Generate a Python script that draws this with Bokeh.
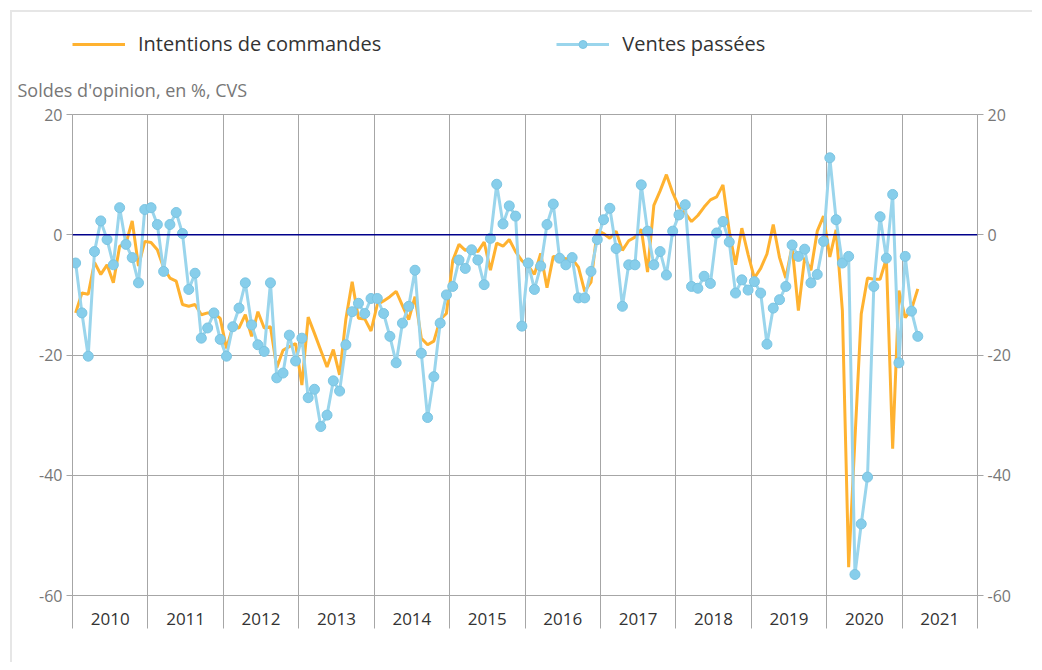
import numpy as np
from bokeh.plotting import figure
from bokeh.layouts import column
from bokeh.models import (Range1d, LinearAxis, FixedTicker, Span, Title, Legend,
                          LegendItem, ColumnDataSource)
from bokeh.embed import file_html
from bokeh.resources import INLINE

# ---------------- data ----------------
years = [str(y) for y in range(2010, 2022)]
y_ticks = [20, 0, -20, -40, -60]

intentions = [
    -13.0, -9.7, -9.9, -4.6, -6.6, -5.0, -8.0, -1.9, -1.5, 2.3, -5.2, -1.1,          # 2010
    -1.3, -2.5, -5.5, -7.2, -7.7, -11.6, -11.9, -11.6, -13.3, -13.0, -13.0, -13.9,   # 2011
    -18.9, -15.3, -15.5, -13.3, -16.9, -12.8, -15.5, -15.3, -22.1, -19.2, -18.6, -18.1,  # 2012
    -25.0, -13.7, -16.4, -19.2, -22.0, -19.1, -23.3, -14.0, -7.8, -13.9, -14.0, -16.0,   # 2013
    -11.6, -11.0, -10.3, -9.4, -11.8, -14.1, -10.3, -17.2, -18.3, -17.7, -14.1, -13.1,   # 2014
    -4.3, -1.6, -2.6, -2.2, -2.8, -1.2, -5.9, -1.4, -1.9, -0.8, -2.8, -4.3,          # 2015
    -5.2, -6.6, -3.1, -8.8, -3.6, -3.8, -4.0, -4.0, -5.4, -9.4, -7.9, 0.8,           # 2016
    0.2, -0.6, 0.6, -2.6, -1.0, -0.4, 0.9, -6.2, 4.9, 7.3, 10.0, 7.0,                # 2017
    4.6, 3.6, 2.2, 3.2, 4.6, 5.8, 6.3, 8.3, 0.6, -5.0, 1.1, -3.3,                    # 2018
    -7.2, -5.6, -3.2, 1.7, -3.8, -7.2, -1.9, -12.6, -3.8, -5.9, 0.6, 3.1,            # 2019
    -3.7, 0.8, -12.6, -55.3, -34.0, -13.2, -7.2, -7.4, -7.4, -4.0, -35.6, -9.3,      # 2020
    -13.8, -12.4, -9.0,                                                              # 2021
]

ventes = [
    -4.7, -13.0, -20.2, -2.8, 2.3, -0.8, -5.0, 4.5, -1.6, -3.8, -8.0, 4.2,           # 2010
    4.5, 1.7, -6.1, 1.7, 3.7, 0.2, -9.1, -6.4, -17.2, -15.5, -13.0, -17.4,           # 2011
    -20.2, -15.3, -12.2, -8.0, -15.0, -18.3, -19.4, -8.0, -23.8, -23.0, -16.7, -21.0,  # 2012
    -17.2, -27.1, -25.7, -31.9, -30.0, -24.3, -26.0, -18.3, -12.8, -11.4, -13.1, -10.6,  # 2013
    -10.6, -13.1, -16.9, -21.3, -14.7, -11.9, -5.9, -19.7, -30.4, -23.6, -14.7, -10.0,   # 2014
    -8.6, -4.2, -5.6, -2.5, -4.2, -8.3, -0.6, 8.4, 1.8, 4.8, 3.1, -15.2,             # 2015
    -4.7, -9.1, -5.2, 1.7, 5.1, -3.9, -5.0, -3.8, -10.5, -10.5, -6.1, -0.8,          # 2016
    2.5, 4.4, -2.3, -11.9, -5.0, -5.0, 8.3, 0.6, -5.0, -2.8, -6.7, 0.6,              # 2017
    3.3, 5.0, -8.6, -8.9, -6.9, -8.1, 0.3, 2.2, -1.2, -9.7, -7.5, -9.2,              # 2018
    -7.8, -9.7, -18.2, -12.2, -10.8, -8.6, -1.7, -3.6, -2.4, -8.0, -6.6, -1.1,       # 2019
    12.8, 2.5, -4.7, -3.6, -56.5, -48.1, -40.3, -8.6, 3.0, -3.9, 6.7, -21.3,         # 2020
    -3.6, -12.7, -16.9,                                                              # 2021
]

# month positions (centre of each month, in months since Jan 2010)
n = len(ventes)
month_x = [i + 0.5 for i in range(n)]
src = ColumnDataSource(dict(x=month_x, intentions=intentions, ventes=ventes))

n_months_axis = 12 * len(years)
year_bounds = [12 * k for k in range(len(years) + 1)]
year_mids = [12 * k + 6 for k in range(len(years))]

FONT = "Open Sans"
GRID = "#a6a6a6"
ORANGE = "#FFB230"
BLUE_LINE = "#9AD5EC"
BLUE_MARK = "#87CEEB"
BLUE_EDGE = "#7cc5e2"

W = 1020
LEG_H = 50

# ---------------- legend strip (same series, ranges chosen so nothing shows) ----------------
lf = figure(width=W, height=LEG_H, title=None, x_range=Range1d(-3, -2), y_range=Range1d(0, 1),
            x_axis_type=None, y_axis_type=None, output_backend="svg",
            toolbar_location=None, min_border=0)
lf.outline_line_color = None
lf.border_fill_color = "white"
k_ol = lf.line("x", "intentions", source=src, line_color=ORANGE, line_width=3)
k_bl = lf.line("x", "ventes", source=src, line_color=BLUE_LINE, line_width=3)
k_bs = lf.scatter("x", "ventes", source=src, size=10, fill_color=BLUE_MARK,
                  line_color=BLUE_EDGE, line_width=1)
legend = Legend(items=[LegendItem(label="Intentions de commandes", renderers=[k_ol]),
                       LegendItem(label="Ventes passées", renderers=[k_bl, k_bs])],
                orientation="horizontal", location=(0, 5),
                glyph_width=53, glyph_height=20, label_standoff=13, spacing=175,
                padding=0, margin=0, border_line_color=None,
                background_fill_alpha=0,
                label_text_font=FONT, label_text_font_size="20px",
                label_text_color="#333333")
lf.add_layout(legend, "center")

# ---------------- main chart ----------------
p = figure(width=W, height=650 - LEG_H, title=None,
           x_range=Range1d(0, n_months_axis), y_range=Range1d(-60, 20),
           output_backend="svg", toolbar_location=None,
           min_border_left=60, min_border_right=55,
           min_border_top=52, min_border_bottom=67)
p.outline_line_color = GRID
p.background_fill_color = "white"
p.border_fill_color = "white"

xa = p.xaxis[0]
xa.ticker = FixedTicker(ticks=year_mids, minor_ticks=year_bounds)
xa.major_label_overrides = {m: y for m, y in zip(year_mids, years)}
xa.major_tick_line_color = None
xa.major_tick_out = 0
xa.major_tick_in = 0
xa.minor_tick_line_color = GRID
xa.minor_tick_out = 33
xa.minor_tick_in = 0
xa.axis_line_color = GRID
xa.major_label_standoff = -16
xa.major_label_text_font = FONT
xa.major_label_text_font_size = "17px"
xa.major_label_text_color = "#333333"

def style_y(ax):
    ax.ticker = FixedTicker(ticks=y_ticks)
    ax.major_label_overrides = {t: str(t) for t in y_ticks}
    ax.major_tick_out = 6
    ax.major_tick_in = 0
    ax.major_tick_line_color = GRID
    ax.minor_tick_line_color = None
    ax.axis_line_color = GRID
    ax.major_label_standoff = 4
    ax.major_label_text_font = FONT
    ax.major_label_text_font_size = "16px"
    ax.major_label_text_color = "#777777"

style_y(p.yaxis[0])
ra = LinearAxis()
style_y(ra)
p.add_layout(ra, "right")

p.xgrid.ticker = FixedTicker(ticks=year_bounds[1:-1])
p.xgrid.grid_line_color = GRID
p.ygrid.ticker = FixedTicker(ticks=[t for t in y_ticks if t != 0])
p.ygrid.grid_line_color = GRID

p.add_layout(Span(location=0, dimension="width", line_color="#00008B", line_width=1.5))

p.line("x", "intentions", source=src, line_color=ORANGE, line_width=3)
p.line("x", "ventes", source=src, line_color=BLUE_LINE, line_width=3)
p.scatter("x", "ventes", source=src, size=10, fill_color=BLUE_MARK,
          line_color=BLUE_EDGE, line_width=1)

p.add_layout(Title(text="Soldes d'opinion, en %, CVS", align="left", offset=-55,
                   standoff=26, text_font=FONT, text_font_size="18px",
                   text_font_style="normal", text_color="#777777"), "above")

layout = column(lf, p, spacing=0)
layout.styles = {"margin-left": "10px", "margin-top": "10px",
                 "border-left": "2px solid #e6e6e6", "border-top": "2px solid #e6e6e6"}

open("out.html", "w").write(file_html(layout, INLINE))
